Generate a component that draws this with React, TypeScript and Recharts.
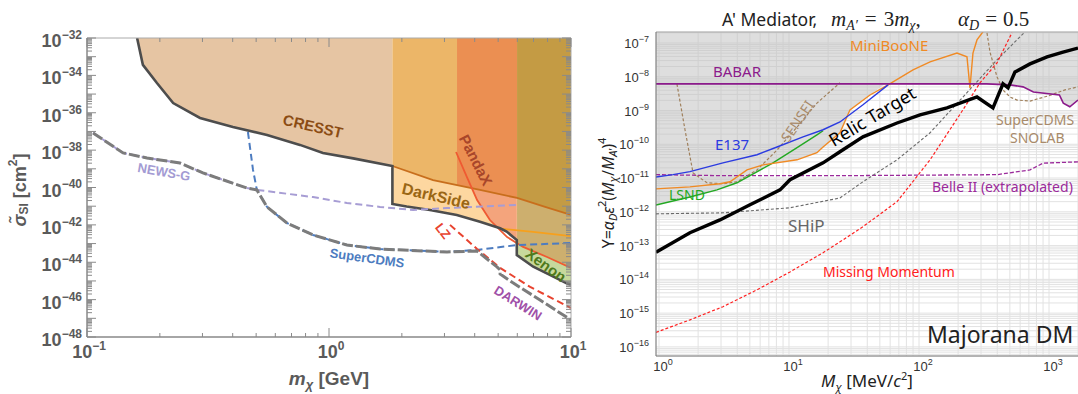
import { ComposedChart, Area, Line, XAxis, YAxis, CartesianGrid } from 'recharts'

type P = [number, number]
type R = [number, number, number]

/* ---------- left panel: log10(m_chi / GeV) vs log10(sigma / cm^2) ---------- */
const leftXDomain: P = [-1, 1]
const leftYDomain: P = [-48, -32]
const leftXLabels = [-1, 0, 1]
const leftYLabels = [-48, -46, -44, -42, -40, -38, -36, -34, -32]

// thick black exclusion boundary (CRESST -> DarkSide -> Xenon)
const boundary: P[] = [
  [-0.793, -32], [-0.769, -33.44], [-0.711, -34.41], [-0.644, -35.48], [-0.533, -36.28],
  [-0.397, -36.76], [-0.256, -37.19], [-0.12, -37.72], [-0.025, -38.15], [0.1, -38.44], [0.262, -38.85],
  [0.262, -40.88], [0.321, -41.02], [0.417, -41.2], [0.528, -41.47], [0.624, -41.83], [0.707, -42.18],
  [0.734, -42.36], [0.776, -42.81], [0.776, -43.61], [0.844, -44.24], [0.927, -44.77], [0.982, -45.13], [1.0, -45.2],
]
const cresstEdge: P[] = boundary.slice(0, 11)
const brownLine: P[] = [[0.262, -38.85], [0.43, -39.6], [0.624, -40.13], [0.777, -40.56], [0.893, -41.04], [1.0, -41.47]]
const orangeLine: P[] = [[0.707, -42.2], [0.843, -42.38], [1.0, -42.6]]
const pandaxLine: P[] = [[0.525, -38.1], [0.57, -39.44], [0.612, -40.67], [0.665, -41.74], [0.736, -42.65], [0.802, -43.18], [0.901, -43.72], [1.0, -44.31]]
const bandA: P[] = [[0.262, -38.85], [0.43, -39.6], [0.529, -39.87]]
const bandB: P[] = [[0.529, -39.87], [0.624, -40.13], [0.777, -40.56]]
const bandC: P[] = [[0.777, -40.56], [0.893, -41.04], [1.0, -41.47]]
const darkSideRegion: R[] = [
  [0.262, -40.88, -38.85], [0.321, -41.02, -39.11], [0.417, -41.2, -39.54], [0.43, -41.23, -39.6],
  [0.528, -41.47, -39.87], [0.624, -41.83, -40.13], [0.707, -42.18, -40.36], [0.734, -42.36, -40.44], [0.776, -42.81, -40.56],
]
const pandaxRegion: R[] = [
  [0.59, -40.03, -40.03], [0.612, -40.67, -40.1], [0.624, -40.91, -40.13], [0.665, -41.74, -40.25],
  [0.7, -42.15, -40.34], [0.707, -42.18, -40.36], [0.734, -42.36, -40.44], [0.776, -42.81, -40.56],
]
const bandCLower: R[] = [
  [0.777, -43.61, -40.56], [0.844, -44.24, -40.84], [0.893, -44.6, -41.04], [0.927, -44.77, -41.18], [0.982, -45.13, -41.4], [1.0, -45.2, -41.47],
]
const xenonRegion: R[] = [
  [0.777, -43.61, -42.98], [0.802, -43.83, -43.18], [0.844, -44.24, -43.41], [0.901, -44.62, -43.72],
  [0.927, -44.77, -43.87], [0.982, -45.13, -44.2], [1.0, -45.2, -44.31],
]
const newsG: P[] = [
  [-0.975, -37.08], [-0.851, -38.15], [-0.752, -38.42], [-0.616, -38.69], [-0.521, -39.22], [-0.339, -40.03],
  [-0.298, -40.13], [-0.066, -40.51], [0.074, -40.83], [0.211, -41.04], [0.347, -41.2], [0.488, -41.1], [0.789, -40.93],
]
const superCdms: P[] = [
  [-0.335, -37.03], [-0.314, -39.06], [-0.298, -40.13], [-0.256, -41.04], [-0.174, -41.9], [-0.066, -42.54],
  [0.074, -43.08], [0.211, -43.29], [0.488, -43.45], [0.612, -43.34], [0.777, -43.08], [1.0, -42.97],
]
const lz: P[] = [[0.5, -42.0], [0.612, -43.29], [0.707, -44.3], [0.831, -45.32], [1.0, -46.45]]
const projEnvelope: P[] = [
  [-0.975, -37.08], [-0.851, -38.15], [-0.752, -38.42], [-0.616, -38.69], [-0.521, -39.22], [-0.339, -40.03],
  [-0.298, -40.13], [-0.256, -41.04], [-0.174, -41.9], [-0.066, -42.54], [0.074, -43.08], [0.211, -43.29],
  [0.488, -43.45], [0.612, -43.4], [0.694, -44.25], [0.707, -44.41], [0.707, -44.63], [0.76, -45.1], [0.872, -46.02], [1.0, -47.09],
]

/* ---------- right panel: log10(M_chi / MeV) vs log10(Y) ---------- */
const rightXDomain: P = [-0.023, 3.223]
const rightYDomain: P = [-16.27, -6.675]
const rightXLabels = [0, 1, 2, 3]
const rightYLabels = [-16, -15, -14, -13, -12, -11, -10, -9, -8, -7]

const excludedEdge: P[] = [
  [-0.023, -11.8], [0.238, -11.56], [0.446, -11.35], [0.6, -11.14], [0.877, -10.55], [1.062, -10.46], [1.215, -10.25],
  [1.262, -10.08], [1.392, -9.66], [1.469, -8.98], [1.623, -8.54], [1.74, -8.21], [2.52, -8.21], [2.7, -8.24],
  [2.8, -8.3], [2.88, -8.45], [3.08, -8.54], [3.11, -8.78], [3.16, -8.89], [3.223, -8.69],
]
const babar: P[] = [[-0.023, -8.21], [2.52, -8.21], [2.7, -8.24], [2.8, -8.3], [2.88, -8.45], [3.08, -8.54], [3.11, -8.78], [3.16, -8.89], [3.223, -8.69]]
const e137: P[] = [[-0.023, -10.97], [0.108, -10.9], [0.238, -10.81], [0.492, -10.55], [0.754, -10.31], [0.908, -10.08], [1.108, -9.78], [1.262, -9.57], [1.392, -9.34], [1.569, -8.83], [1.762, -8.24]]
const lsnd: P[] = [[-0.023, -11.8], [0.238, -11.56], [0.446, -11.35], [0.6, -11.14], [0.877, -10.55], [1.062, -10.1], [1.215, -9.72], [1.262, -9.6]]
const miniBooNE: P[] = [
  [-0.023, -11.32], [0.238, -11.26], [0.469, -11.17], [0.546, -11.11], [0.677, -10.76], [0.8, -10.61], [1.062, -10.46],
  [1.215, -10.25], [1.262, -10.08], [1.392, -9.66], [1.469, -8.98], [1.623, -8.54], [1.762, -8.24], [1.954, -7.8],
  [2.085, -7.56], [2.292, -7.3], [2.369, -7.41], [2.392, -8.33], [2.415, -7.3], [2.446, -6.91], [2.492, -6.67],
]
const sensei: P[] = [[0.138, -8.21], [0.2, -9.57], [0.262, -10.85], [0.369, -11.14], [0.492, -11.17], [0.6, -11.11], [0.754, -10.76], [0.908, -10.17], [1.062, -9.49], [1.215, -8.78], [1.392, -8.18]]
const snolab: P[] = [[2.523, -6.7], [2.546, -7.27], [2.6, -8.0], [2.646, -8.39], [2.7, -8.6], [2.754, -8.69], [2.854, -8.72], [2.992, -8.57], [3.123, -8.39], [3.223, -8.3]]
const belle2: P[] = [[-0.023, -10.9], [0.492, -10.93], [1.392, -10.93], [2.6, -10.9], [2.854, -10.76], [2.954, -10.56], [3.223, -10.52]]
const ship: P[] = [[-0.023, -12.06], [0.492, -12.03], [1.008, -11.88], [1.392, -11.59], [1.569, -11.11], [1.831, -10.46], [2.085, -9.66], [2.338, -8.6], [2.6, -7.5], [2.815, -6.67]]
const missingMomentum: P[] = [
  [-0.023, -15.57], [0.238, -15.2], [0.492, -14.81], [0.754, -14.31], [1.008, -13.78], [1.262, -13.21], [1.392, -12.89],
  [1.569, -12.44], [1.831, -11.7], [2.085, -10.46], [2.338, -8.98], [2.469, -8.18], [2.6, -7.59], [2.715, -6.7],
]
const relic: P[] = [
  [-0.023, -13.2], [0.238, -12.62], [0.469, -12.24], [0.7, -11.79], [0.931, -11.35], [1.008, -11.05], [1.262, -10.55],
  [1.392, -10.22], [1.569, -9.78], [1.831, -9.37], [2.008, -9.13], [2.215, -8.92], [2.446, -8.6], [2.569, -8.92],
  [2.646, -8.21], [2.685, -8.33], [2.738, -7.86], [2.854, -7.62], [2.985, -7.41], [3.108, -7.27], [3.223, -7.15],
]

/* ---------- helpers ---------- */
const minorSteps = [1, 2, 3, 4, 5, 6, 7, 8, 9]
function logTicks([lo, hi]: P) {
  const out: number[] = []
  for (let n = Math.floor(lo); n <= Math.ceil(hi); n++)
    for (const k of minorSteps) {
      const v = +(n + Math.log10(k)).toFixed(5)
      if (v >= lo - 1e-6 && v <= hi + 1e-6) out.push(v)
    }
  return out
}
const isDecade = (v: number) => Math.abs(v - Math.round(v)) < 1e-6
const expText = (n: number) => (n < 0 ? '\u2212' + -n : String(n))
const pts = (a: P[]) => a.map(([x, y]) => ({ x, y }))
const rng = (a: R[]) => a.map(([x, lo, hi]) => ({ x, v: [lo, hi] }))
const toTop = (a: P[], top: number) => a.map(([x, y]) => ({ x, v: [y, top] }))

const LF = 'Liberation Sans, Arial, sans-serif'
const LC = '#5a5a5a'

function Pow({ x, y, n, anchor, size, sup, color, bold }: any) {
  return (
    <text x={x} y={y} textAnchor={anchor} fontSize={size} fontFamily={LF} fontWeight={bold ? 'bold' : 'normal'} fill={color}>
      10<tspan dy={-size * 0.45} fontSize={sup}>{expText(n)}</tspan>
    </text>
  )
}

function LeftYTick({ x, y, payload }: any) {
  const v = payload.value
  const major = isDecade(v)
  return (
    <g>
      <line x1={x} x2={x + (major ? 9 : 5)} y1={y} y2={y} stroke="#8a8a8a" />
      {major && leftYLabels.includes(Math.round(v)) && (
        <Pow x={x - 5} y={y + 9} n={Math.round(v)} anchor="end" size={18} sup={12} color={LC} bold />
      )}
    </g>
  )
}
function LeftRightTick({ x, y, payload }: any) {
  const major = isDecade(payload.value)
  return <line x1={x} x2={x - (major ? 9 : 5)} y1={y} y2={y} stroke="#8a8a8a" />
}
function LeftXTick({ x, y, payload }: any) {
  const v = payload.value
  const major = isDecade(v)
  return (
    <g>
      <line x1={x} x2={x} y1={y} y2={y - (major ? 9 : 4)} stroke="#8a8a8a" />
      {major && leftXLabels.includes(Math.round(v)) && (
        <Pow x={x + 2} y={y + 21} n={Math.round(v)} anchor="middle" size={18} sup={12} color={LC} bold />
      )}
    </g>
  )
}
function LeftTopTick({ x, y, payload }: any) {
  const major = isDecade(payload.value)
  return <line x1={x} x2={x} y1={y} y2={y + (major ? 9 : 4)} stroke="#8a8a8a" />
}
function RightYTick({ x, y, payload }: any) {
  const v = payload.value
  if (!isDecade(v) || !rightYLabels.includes(Math.round(v))) return <g />
  return <Pow x={x - 7} y={y + 5} n={Math.round(v)} anchor="end" size={13} sup={9} color="#333" />
}
function RightXTick({ x, y, payload }: any) {
  const v = payload.value
  if (!isDecade(v) || !rightXLabels.includes(Math.round(v))) return <g />
  return <Pow x={x + 4} y={y + 15} n={Math.round(v)} anchor="middle" size={13} sup={9} color="#333" />
}

const band = (d: any[], fill: string) => (
  <Area data={d} dataKey="v" type="linear" stroke="none" fill={fill} fillOpacity={1} isAnimationActive={false} />
)
const curve = (d: P[], stroke: string, width: number, dash?: string) => (
  <Line data={pts(d)} dataKey="y" type="linear" stroke={stroke} strokeWidth={width} strokeDasharray={dash} dot={false} isAnimationActive={false} />
)

function Rot({ x, y, a, children, ...rest }: any) {
  return (
    <text x={x} y={y} transform={`rotate(${a} ${x} ${y})`} textAnchor="middle" dominantBaseline="central" {...rest}>
      {children}
    </text>
  )
}

export default function App() {
  const leftXT = logTicks(leftXDomain)
  const leftYT = logTicks(leftYDomain)
  const rightXT = logTicks(rightXDomain)
  const rightYT = logTicks(rightYDomain)
  const bl = { fontFamily: LF, fontWeight: 'bold' as const }
  const nf = 'Noto Sans, Open Sans, sans-serif'
  const mf = 'Liberation Serif, serif'

  return (
    <div style={{ position: 'absolute', left: 0, top: 0, width: 1078, height: 394, background: '#fff', overflow: 'hidden' }}>
      <div style={{ position: 'absolute', left: 0, top: 0 }}>
        <ComposedChart width={590} height={394} margin={{ top: 37, right: 18, bottom: 56, left: 86 }}>
          <XAxis dataKey="x" type="number" domain={leftXDomain} allowDataOverflow ticks={leftXT} interval={0}
            tickSize={0} tickMargin={0} height={1} tick={<LeftXTick />} axisLine={{ stroke: '#888', strokeWidth: 1.5 }} />
          <XAxis xAxisId="top" orientation="top" dataKey="x" type="number" domain={leftXDomain} allowDataOverflow ticks={leftXT}
            interval={0} tickSize={0} tickMargin={0} height={1} tick={<LeftTopTick />} axisLine={{ stroke: '#aaa' }} />
          <YAxis type="number" domain={leftYDomain} allowDataOverflow ticks={leftYT} interval={0}
            tickSize={0} tickMargin={0} width={1} tick={<LeftYTick />} axisLine={{ stroke: '#888', strokeWidth: 1.5 }} />
          <YAxis yAxisId="right" orientation="right" type="number" domain={leftYDomain} allowDataOverflow ticks={leftYT}
            interval={0} tickSize={0} tickMargin={0} width={1} tick={<LeftRightTick />} axisLine={{ stroke: '#aaa' }} />

          {band(toTop(cresstEdge, -32), '#e6c5a3')}
          {band(toTop(bandA, -32), '#ecb668')}
          {band(toTop(bandB, -32), '#eb8f52')}
          {band(toTop(bandC, -32), '#c49b44')}
          {band(rng(darkSideRegion), '#fdd7a0')}
          {band(rng(pandaxRegion), '#f4a47c')}
          {band(rng(bandCLower), '#cdaf6e')}
          {band(rng(xenonRegion), '#c7d99c')}

          {curve(brownLine, '#c86e1c', 1.8)}
          {curve(orangeLine, '#f7a01c', 1.8)}
          {curve(pandaxLine, '#ef5a32', 1.8)}
          {curve(boundary, '#4d4d4d', 2.6)}

          {curve(newsG, '#a79dd4', 2, '7 4')}
          {curve(superCdms, '#4d7cc0', 2, '7 4')}
          {curve(lz, '#e8432f', 2, '7 4')}
          {curve(projEnvelope, '#7c7c7c', 3, '11 3')}
        </ComposedChart>
      </div>

      <div style={{ position: 'absolute', left: 590, top: 0 }}>
        <ComposedChart width={488} height={394} margin={{ top: 31, right: 0, bottom: 37, left: 65 }}>
          <CartesianGrid stroke="#e2e2e2" />
          <XAxis dataKey="x" type="number" domain={rightXDomain} allowDataOverflow ticks={rightXT} interval={0}
            tickSize={0} tickMargin={0} height={1} tick={<RightXTick />} axisLine={{ stroke: '#777' }} />
          <XAxis xAxisId="top" orientation="top" dataKey="x" type="number" domain={rightXDomain} allowDataOverflow
            ticks={rightXT} interval={0} tick={false} tickLine={false} height={1} axisLine={{ stroke: '#aaa' }} />
          <YAxis type="number" domain={rightYDomain} allowDataOverflow ticks={rightYT} interval={0}
            tickSize={0} tickMargin={0} width={1} tick={<RightYTick />} axisLine={{ stroke: '#777' }} />

          <Area data={toTop(excludedEdge, rightYDomain[1])} dataKey="v" type="linear" stroke="none" fill="#bdbdbd"
            fillOpacity={0.5} isAnimationActive={false} />

          {curve(belle2, '#9b2a9b', 1.3, '4 2')}
          {curve(ship, '#6a6a6a', 1.1, '3 2')}
          {curve(missingMomentum, '#ff2020', 1.2, '3 2')}
          {curve(sensei, '#a0805c', 1.2, '3 2')}
          {curve(snolab, '#a0805c', 1.2, '3 2')}
          {curve(lsnd, '#22a822', 1.4)}
          {curve(miniBooNE, '#f08a24', 1.4)}
          {curve(e137, '#2b3be0', 1.4)}
          {curve(babar, '#8b1a8b', 1.6)}
          {curve(relic, '#000', 3.4)}
        </ComposedChart>
      </div>

      <svg width={1078} height={394} style={{ position: 'absolute', left: 0, top: 0, pointerEvents: 'none' }}>
        {/* left panel axis titles */}
        <Rot x={20} y={190} a={-90} fontSize={18} fill={LC} {...bl}>
          <tspan fontStyle="italic">{'\u03c3\u0303'}</tspan>
          <tspan fontSize={12} dy={4}>SI</tspan>
          <tspan dy={-4}> [cm</tspan>
          <tspan fontSize={12} dy={-7}>2</tspan>
          <tspan dy={7}>]</tspan>
        </Rot>
        <text x={329} y={385} textAnchor="middle" fontSize={19} fill={LC} {...bl}>
          <tspan fontStyle="italic">m</tspan>
          <tspan fontSize={13} dy={4} fontStyle="italic">{'\u03c7'}</tspan>
          <tspan dy={-4}> [GeV]</tspan>
        </text>

        {/* left panel region labels */}
        <Rot x={313} y={126} a={13} fontSize={15} fill="#8b4c14" {...bl}>CRESST</Rot>
        <Rot x={436} y={196} a={13} fontSize={16} fill="#9a6614" {...bl}>DarkSide</Rot>
        <Rot x={476} y={160} a={63} fontSize={15} fill="#a8462a" {...bl}>PandaX</Rot>
        <Rot x={546} y={265} a={36} fontSize={15} fill="#4f7a1c" {...bl}>Xenon</Rot>
        <Rot x={443} y={231} a={52} fontSize={13} fill="#e8432f" {...bl}>LZ</Rot>
        <Rot x={518} y={303} a={32} fontSize={13} fill="#a050a8" {...bl}>DARWIN</Rot>
        <Rot x={367} y={258} a={8} fontSize={13} fill="#4d7cc0" {...bl}>SuperCDMS</Rot>
        <Rot x={164} y={172} a={10} fontSize={13} fill="#a39bd3" {...bl}>NEWS-G</Rot>

        {/* right panel title */}
        <text x={722} y={26} fontSize={17.5} fontFamily={nf} fill="#222">A' Mediator,</text>
        <text x={831} y={26} fontSize={21} fontFamily={mf} fill="#222">
          <tspan fontStyle="italic">m</tspan>
          <tspan fontSize={14} dy={4} fontStyle="italic">{'A\u2032'}</tspan>
          <tspan dy={-4} dx={7}>=</tspan>
          <tspan dx={7}>3</tspan>
          <tspan fontStyle="italic">m</tspan>
          <tspan fontSize={14} dy={4} fontStyle="italic">{'\u03c7'}</tspan>
          <tspan dy={-4}>,</tspan>
        </text>
        <text x={958} y={26} fontSize={21} fontFamily={mf} fill="#222">
          <tspan fontStyle="italic">{'\u03b1'}</tspan>
          <tspan fontSize={14} dy={4} fontStyle="italic">D</tspan>
          <tspan dy={-4} dx={6}>=</tspan>
          <tspan dx={6}>0.5</tspan>
        </text>

        {/* right panel axis titles */}
        <Rot x={608} y={193} a={-90} fontSize={16} fontFamily={nf} fill="#222">
          <tspan>Y=</tspan>
          <tspan fontStyle="italic">{'\u03b1'}</tspan>
          <tspan fontSize={11} dy={4} fontStyle="italic">D</tspan>
          <tspan dy={-4} fontStyle="italic">{'\u03b5'}</tspan>
          <tspan fontSize={11} dy={-7}>2</tspan>
          <tspan dy={7}>(</tspan>
          <tspan fontStyle="italic">M</tspan>
          <tspan fontSize={11} dy={4} fontStyle="italic">{'\u03c7'}</tspan>
          <tspan dy={-4}>/</tspan>
          <tspan fontStyle="italic">M</tspan>
          <tspan fontSize={11} dy={4} fontStyle="italic">A'</tspan>
          <tspan dy={-4}>)</tspan>
          <tspan fontSize={11} dy={-7}>4</tspan>
        </Rot>
        <text x={867} y={387} textAnchor="middle" fontSize={17} fontFamily={nf} fill="#222">
          <tspan fontStyle="italic">M</tspan>
          <tspan fontSize={11} dy={4} fontStyle="italic">{'\u03c7'}</tspan>
          <tspan dy={-4}> [MeV/</tspan>
          <tspan fontStyle="italic">c</tspan>
          <tspan fontSize={11} dy={-7}>2</tspan>
          <tspan dy={7}>]</tspan>
        </text>

        {/* right panel curve labels */}
        <text x={850} y={51} fontSize={15} fontFamily={nf} fill="#f08a24">MiniBooNE</text>
        <text x={713} y={77} fontSize={15} fontFamily={nf} fill="#8b1a8b">BABAR</text>
        <Rot x={797} y={121} a={-56} fontSize={14} fontFamily={nf} fill="#a88a6a">SENSEI</Rot>
        <text x={715} y={150} fontSize={15} fontFamily={nf} fill="#2b3be0">E137</text>
        <text x={669} y={200} fontSize={14} fontFamily={nf} fill="#22a822">LSND</text>
        <Rot x={872} y={116} a={-31} fontSize={18} fontFamily={nf} fill="#000">Relic Target</Rot>
        <text x={996} y={125} fontSize={14} fontFamily={nf} fill="#a88a6a">SuperCDMS</text>
        <text x={1010} y={143} fontSize={14} fontFamily={nf} fill="#a88a6a">SNOLAB</text>
        <text x={932} y={192} fontSize={14} fontFamily={nf} fill="#9b2a9b">Belle II (extrapolated)</text>
        <text x={788} y={232} fontSize={17} fontFamily={nf} fill="#666">SHiP</text>
        <text x={823} y={277} fontSize={14} fontFamily={nf} fill="#ff2020">Missing Momentum</text>
        <text x={927} y={343} fontSize={23} fontFamily={nf} fill="#222">Majorana DM</text>
      </svg>
    </div>
  )
}
